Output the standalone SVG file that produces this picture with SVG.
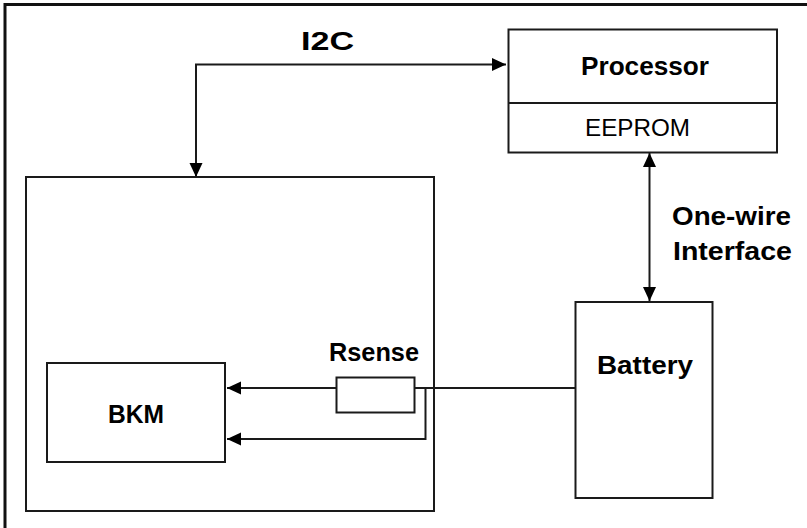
<svg xmlns="http://www.w3.org/2000/svg" width="807" height="528" viewBox="0 0 807 528">
  <style>
    .box { fill: #ffffff; stroke: #1a1a1a; stroke-width: 2; }
    .ln { fill: none; stroke: #1a1a1a; stroke-width: 2; }
    .t { font-family: "Liberation Sans", Arial, sans-serif; fill: #000; }
    .b { font-weight: bold; }
  </style>
  <defs>
    <marker id="arr" markerUnits="userSpaceOnUse" markerWidth="16" markerHeight="14" refX="14" refY="6.5" orient="auto-start-reverse">
      <path d="M0,0 L14,6.5 L0,13 z" fill="#000"/>
    </marker>
  </defs>
  <rect width="807" height="528" fill="#ffffff"/>
  <g id="frame">
    <path d="M5,528 L5,4.5 L807,4.5" fill="none" stroke="#111" stroke-width="3"/>
  </g>
  <g id="host">
    <rect class="box" x="26" y="177" width="408" height="334"/>
  </g>
  <g id="processor">
    <rect class="box" x="508.5" y="29.5" width="268.5" height="123"/>
    <line class="ln" x1="508.5" y1="103" x2="777" y2="103"/>
    <text class="t b" x="581" y="75" font-size="26" textLength="128" lengthAdjust="spacingAndGlyphs">Processor</text>
    <text class="t" x="585" y="136" font-size="24" textLength="105" lengthAdjust="spacingAndGlyphs">EEPROM</text>
  </g>
  <g id="bkm">
    <rect class="box" x="47" y="363" width="178" height="99"/>
    <text class="t b" x="108" y="423" font-size="25" textLength="56" lengthAdjust="spacingAndGlyphs">BKM</text>
  </g>
  <g id="rsense">
    <rect class="box" x="336.5" y="377.5" width="78" height="35"/>
    <text class="t b" x="329" y="361" font-size="25" textLength="90" lengthAdjust="spacingAndGlyphs">Rsense</text>
  </g>
  <g id="battery">
    <rect class="box" x="575.5" y="302" width="137" height="196"/>
    <text class="t b" x="597" y="374" font-size="26" textLength="96" lengthAdjust="spacingAndGlyphs">Battery</text>
  </g>
  <g id="connectors">
    <path class="ln" d="M196,177 L196,64.5 L506,64.5" marker-start="url(#arr)" marker-end="url(#arr)"/>
    <path class="ln" d="M649.5,153 L649.5,301" marker-start="url(#arr)" marker-end="url(#arr)"/>
    <path class="ln" d="M575,388 L415,388"/>
    <path class="ln" d="M336,388 L227,388" marker-end="url(#arr)"/>
    <path class="ln" d="M414,388 L425.5,388 L425.5,439 L227,439" marker-end="url(#arr)"/>
    <text class="t b" x="301" y="50" font-size="25" textLength="53" lengthAdjust="spacingAndGlyphs">I2C</text>
    <text class="t b" x="672" y="225" font-size="26" textLength="119" lengthAdjust="spacingAndGlyphs">One-wire</text>
    <text class="t b" x="673" y="260" font-size="26" textLength="119" lengthAdjust="spacingAndGlyphs">Interface</text>
  </g>
</svg>
